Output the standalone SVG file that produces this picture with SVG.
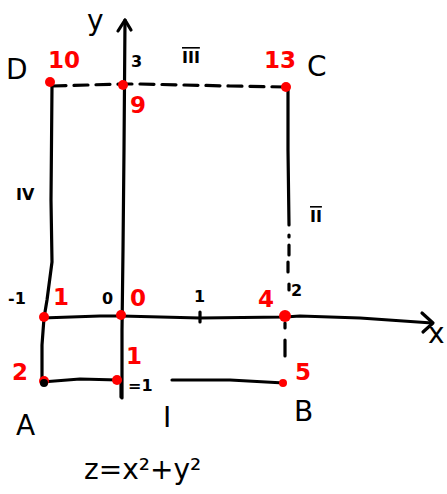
<svg xmlns="http://www.w3.org/2000/svg" width="447" height="494" viewBox="0 0 447 494">
<style>
.ln{fill:none;stroke:#000;stroke-width:3.2;stroke-linecap:round;stroke-linejoin:round}
.ds{stroke-dasharray:14 8}
.pt{fill:#ff0000}
.bk{font-family:"DejaVu Sans",sans-serif;font-size:28px;fill:#000}
.sm{font-family:"DejaVu Sans",sans-serif;font-size:16px;font-weight:bold;fill:#000}
.rd{font-family:"DejaVu Sans",sans-serif;font-size:23px;font-weight:bold;fill:#ff0000}
</style>
<rect width="447" height="494" fill="#fff"/>
<g id="connectors">
  <path class="ln" d="M122 398 L122 330 L123 250 L124 150 L125 20"/>
  <path class="ln" d="M118 31 L125 20 L131 30"/>
  <path class="ln" d="M42 318 L100 316 L121 316 L200 318 L285 317 L300 316 L360 318 L432 323"/>
  <path class="ln" d="M422 313 L433 323 L423 332"/>
  <path class="ln ds" d="M52 86 L123 84 L140 84 L230 86 L286 87"/>
  <path class="ln" d="M52 86 L51 200 L52 262 L47 300 L44 318 L42 345 L42 382"/>
  <path class="ln" d="M288 88 L288 150 L289 225"/>
  <path class="ln" d="M289 235 L289 237 M289 245 L289 255 M288 262 L288 272 M289 284 L289 290 M285 323 L285 328 M285 340 L285 356"/>
  <path class="ln" d="M42 382 L80 379 L118 380 M172 380 L230 380 L284 383"/>
  <path class="ln" d="M200 312 L200 322 M121 380 L121 397"/>
</g>
<g id="pointA"><circle class="pt" cx="44" cy="381" r="5"/><circle cx="44" cy="383" r="4" fill="#000"/><text class="rd" x="12" y="380">2</text><text class="bk" x="16" y="435">A</text></g>
<g id="pointA1"><circle class="pt" cx="117" cy="380" r="5"/><text class="rd" x="126" y="364">1</text><text class="sm" x="128" y="391" font-size="11">=1</text></g>
<g id="pointB"><circle class="pt" cx="283" cy="383" r="4"/><text class="rd" x="295" y="380">5</text><text class="bk" x="294" y="421">B</text></g>
<g id="pointL"><circle class="pt" cx="44" cy="317" r="5"/><text class="rd" x="53" y="305">1</text><text class="sm" x="8" y="304">-1</text></g>
<g id="pointO"><circle class="pt" cx="121" cy="315" r="5"/><text class="rd" x="130" y="306">0</text><text class="sm" x="102" y="304">0</text></g>
<g id="tick1"><text class="sm" x="194" y="302">1</text></g>
<g id="pointR"><circle class="pt" cx="285" cy="316" r="6"/><text class="rd" x="258" y="307">4</text><text class="sm" x="291" y="296" font-size="11">2</text></g>
<g id="pointD"><circle class="pt" cx="50" cy="82" r="5"/><text class="rd" x="48" y="68">10</text><text class="bk" x="6" y="79">D</text></g>
<g id="point9"><circle class="pt" cx="123" cy="85" r="5"/><text class="rd" x="130" y="113">9</text><text class="sm" x="131" y="67">3</text></g>
<g id="pointC"><circle class="pt" cx="286" cy="87" r="5"/><text class="rd" x="264" y="68">13</text><text class="bk" x="307" y="76">C</text></g>
<g id="labels">
  <text class="bk" x="87" y="30">y</text>
  <text class="bk" x="428" y="343">x</text>
  <text class="sm" x="182" y="63" text-decoration="overline">III</text>
  <text class="sm" x="16" y="200">IV</text>
  <text class="sm" x="310" y="222" text-decoration="overline">II</text>
  <text class="bk" x="163" y="427">I</text>
  <text class="bk" x="84" y="479">z=x²+y²</text>
</g>
</svg>
